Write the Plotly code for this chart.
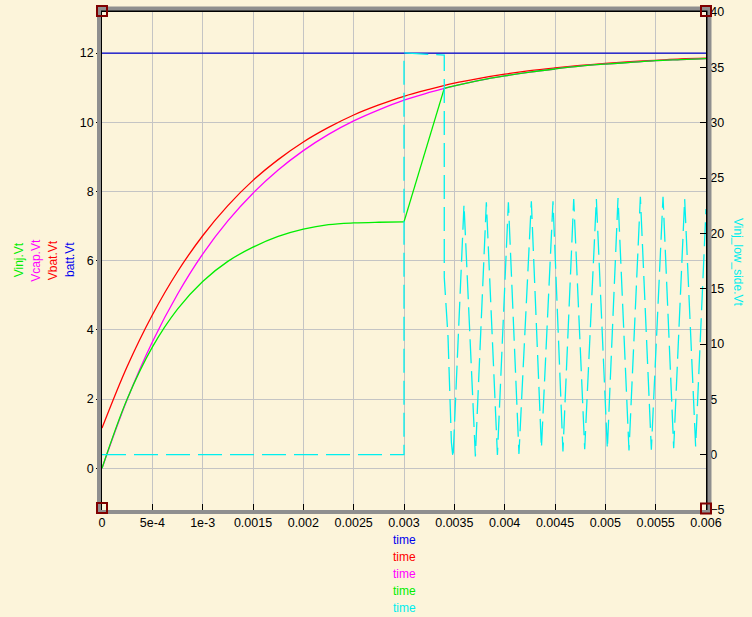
import plotly.graph_objects as go

# ---------------- data ----------------
t_batt = [0.0, 0.006]
batt_vt = [12.0, 12.0]

t_vbat = [0.0, 0.00025, 0.0005, 0.00075, 0.001, 0.00125, 0.0015, 0.00175, 0.002,
          0.00225, 0.0025, 0.00275, 0.003, 0.00325, 0.0035, 0.00375, 0.004, 0.00425,
          0.0045, 0.00475, 0.005, 0.00525, 0.0055, 0.00575, 0.006]
vbat_vt = [1.16, 2.94, 4.43, 5.68, 6.72, 7.59, 8.32, 8.92, 9.43, 9.85, 10.21, 10.50,
           10.75, 10.95, 11.13, 11.27, 11.39, 11.49, 11.57, 11.64, 11.70, 11.75,
           11.79, 11.83, 11.85]

t_vcap = [0.0, 0.00025, 0.0005, 0.00075, 0.001, 0.00125, 0.0015, 0.00175, 0.002,
          0.00225, 0.0025, 0.00275, 0.003, 0.00325, 0.0034, 0.0035, 0.00375, 0.004,
          0.00425, 0.0045, 0.00475, 0.005, 0.00525, 0.0055, 0.00575, 0.006]
vcap_vt = [0.0, 1.99, 3.65, 5.03, 6.19, 7.15, 7.95, 8.62, 9.18, 9.65, 10.04, 10.36,
           10.64, 10.86, 10.98, 11.05, 11.21, 11.34, 11.45, 11.54, 11.62, 11.68,
           11.73, 11.78, 11.81, 11.84]

t_vinj = [0.0, 0.00025, 0.0005, 0.00075, 0.001, 0.00125, 0.0015, 0.00175, 0.002,
          0.00225, 0.0025, 0.00275, 0.003, 0.0034, 0.0035, 0.00375, 0.004, 0.00425,
          0.0045, 0.00475, 0.005, 0.00525, 0.0055, 0.00575, 0.006]
vinj_vt = [0.0, 2.0, 3.50, 4.60, 5.40, 5.98, 6.39, 6.70, 6.91, 7.04, 7.09, 7.11,
           7.12, 10.98, 11.05, 11.21, 11.34, 11.45, 11.54, 11.62, 11.68, 11.73,
           11.78, 11.81, 11.84]
# Vinj segments: charging (spline), ramp (straight), settling (spline)
VINJ_RAMP_START, VINJ_RAMP_END = 12, 13

t_low = [0.0, 0.003, 0.003, 0.0034, 0.0034, 0.003437, 0.003471, 0.003487,
         0.003596, 0.003709, 0.003818, 0.003928, 0.004037, 0.004142, 0.004265,
         0.004365, 0.004480, 0.004579, 0.004686, 0.004795, 0.004911, 0.005020,
         0.005126, 0.005235, 0.005348, 0.005457, 0.005573, 0.005679, 0.005788,
         0.005897, 0.006]
vinj_low_side_vt = [0.0, 0.0, 36.3, 36.1, 16.0, 10.7, 1.1, -0.32,
                    22.6, -0.17, 22.8, -0.02, 22.8, 0.07, 22.9,
                    0.59, 22.9, 0.29, 23.1, 0.5, 23.1, 0.5,
                    23.2, 0.38, 23.3, 0.45, 23.3, 0.59, 23.1,
                    0.74, 22.2]

x_ticks = [0, 0.0005, 0.001, 0.0015, 0.002, 0.0025, 0.003, 0.0035, 0.004,
           0.0045, 0.005, 0.0055, 0.006]
x_tick_labels = ["0", "5e-4", "1e-3", "0.0015", "0.002", "0.0025", "0.003",
                 "0.0035", "0.004", "0.0045", "0.005", "0.0055", "0.006"]
y_ticks = [0, 2, 4, 6, 8, 10, 12]
y2_ticks = [-5, 0, 5, 10, 15, 20, 25, 30, 35, 40]

left_titles = ["Vinj.Vt", "Vcap.Vt", "Vbat.Vt", "batt.Vt"]
left_colors = ["#00ee00", "#ff00ff", "#ff0000", "#0000ee"]
right_title = "Vinj_low_side.Vt"
bottom_titles = ["time", "time", "time", "time", "time"]
bottom_colors = ["#0000ee", "#ff0000", "#ff00ff", "#00ee00", "#00eeee"]

# ---------------- figure ----------------
BG = "#fcf4da"
FONT = "Liberation Sans, Arial, Helvetica, sans-serif"
W, H = 752, 617
ML, MR, MT, MB = 102, 46, 12, 107
PW, PH = W - ML - MR, H - MT - MB


def px_x(p):
    return (p - ML) / PW


def px_y(p):
    return (H - MB - p) / PH


GREEN = "#00ee00"
fig = go.Figure()
fig.add_trace(go.Scatter(x=t_batt, y=batt_vt, mode="lines",
                         line=dict(color="#0000cc", width=1.3)))
fig.add_trace(go.Scatter(x=t_vbat, y=vbat_vt, mode="lines",
                         line=dict(color="#ff0000", width=1.3, shape="spline")))
fig.add_trace(go.Scatter(x=t_vcap, y=vcap_vt, mode="lines",
                         line=dict(color="#ff00ff", width=1.3, shape="spline")))
a, b = VINJ_RAMP_START, VINJ_RAMP_END
fig.add_trace(go.Scatter(x=t_vinj[:a + 1], y=vinj_vt[:a + 1], mode="lines",
                         line=dict(color=GREEN, width=1.3, shape="spline")))
fig.add_trace(go.Scatter(x=t_vinj[a:b + 1], y=vinj_vt[a:b + 1], mode="lines",
                         line=dict(color=GREEN, width=1.3)))
fig.add_trace(go.Scatter(x=t_vinj[b:], y=vinj_vt[b:], mode="lines",
                         line=dict(color=GREEN, width=1.3, shape="spline")))
fig.add_trace(go.Scatter(x=t_low, y=vinj_low_side_vt, mode="lines", yaxis="y2",
                         line=dict(color="#00f0f0", width=1.3, dash="24px,8px")))

axis_font = dict(family=FONT, size=12.5, color="black")

fig.update_layout(
    width=W, height=H, autosize=False,
    margin=dict(l=ML, r=MR, t=MT, b=MB, pad=0, autoexpand=False),
    paper_bgcolor=BG, plot_bgcolor=BG,
    showlegend=False,
    font=dict(family=FONT, size=12, color="black"),
    xaxis=dict(range=[0, 0.006], tickvals=x_ticks, ticktext=x_tick_labels,
               ticks="inside", ticklen=6, tickcolor="black", tickwidth=1,
               showline=True, linecolor="black", linewidth=1.5, mirror=True,
               showgrid=True, gridcolor="#c4c4c4", gridwidth=1, zeroline=False,
               automargin=False, tickfont=axis_font),
    yaxis=dict(range=[-1.206, 13.186], tickvals=y_ticks,
               ticks="outside", ticklen=4, tickcolor="black", tickwidth=1,
               showline=True, linecolor="black", linewidth=1.5,
               showgrid=True, gridcolor="#c4c4c4", gridwidth=1, zeroline=False,
               automargin=False, tickfont=axis_font),
    yaxis2=dict(range=[-5, 40], tickvals=y2_ticks, overlaying="y", side="right",
                ticks="inside", ticklen=6, tickcolor="black", tickwidth=1,
                showline=True, linecolor="black", linewidth=1.5,
                showgrid=False, zeroline=False, automargin=False,
                tickfont=axis_font),
)

# gray frame around plot
fig.add_shape(type="rect", xref="paper", yref="paper",
              x0=px_x(99), x1=px_x(709.5), y0=px_y(512), y1=px_y(8.5),
              line=dict(color="#8f8f8f", width=4), layer="above")

# dark-red corner squares
for (ax, ay, yo) in [(0, 1, 1), (1, 1, 1), (0, 0, 2), (1, 0, 1.5)]:
    fig.add_shape(type="rect", xref="paper", yref="paper",
                  xsizemode="pixel", ysizemode="pixel",
                  xanchor=ax, yanchor=ay,
                  x0=-5, x1=5, y0=yo - 5, y1=yo + 5,
                  line=dict(color="#800000", width=2), layer="above")

# left axis titles
for txt, col, xp in zip(left_titles, left_colors, [19.3, 35.8, 53.3, 70.0]):
    fig.add_annotation(text=txt, xref="paper", yref="paper",
                       x=px_x(xp), y=px_y(260), xanchor="center", yanchor="middle",
                       textangle=-90, showarrow=False,
                       font=dict(family=FONT, size=12, color=col))

# right axis title
fig.add_annotation(text=right_title, xref="paper", yref="paper",
                   x=px_x(738), y=px_y(262), xanchor="center", yanchor="middle",
                   textangle=90, showarrow=False,
                   font=dict(family=FONT, size=12, color="#00eeee"))

# bottom titles
for txt, col, yp in zip(bottom_titles, bottom_colors, [540, 557, 574, 591, 608]):
    fig.add_annotation(text=txt, xref="paper", yref="paper",
                       x=px_x(404), y=px_y(yp), xanchor="center", yanchor="middle",
                       showarrow=False,
                       font=dict(family=FONT, size=12, color=col))

fig.write_html(
    "out.html",
    config={"displayModeBar": False},
    post_script="document.body.style.margin='0';"
                "document.body.style.background='" + BG + "';",
)
